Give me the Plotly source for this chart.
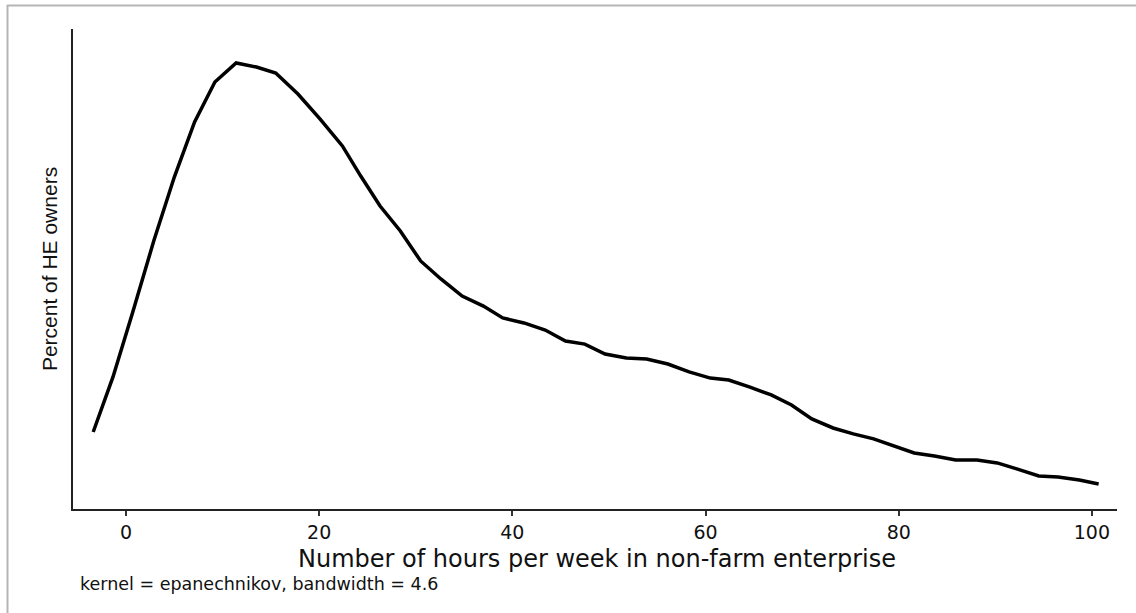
import plotly.graph_objects as go

hours = [-3.4, -1.35, 0.7, 2.9, 5.0, 7.1, 9.2, 11.4, 13.5, 15.5, 17.8, 20.1, 22.4, 24.3,
         26.3, 28.4, 30.5, 32.6, 34.8, 37.0, 39.0, 41.2, 43.4, 45.5, 47.5, 49.6, 51.8,
         53.9, 56.1, 58.3, 60.5, 62.4, 64.6, 66.8, 68.9, 71.0, 73.2, 75.3, 77.4, 79.6,
         81.6, 83.7, 85.9, 88.1, 90.2, 92.3, 94.5, 96.5, 98.7, 100.7]
density = [0.00401, 0.00688, 0.01026, 0.01401, 0.01729, 0.02016, 0.02224, 0.02323,
           0.02302, 0.02271, 0.02161, 0.02031, 0.01891, 0.01734, 0.01578, 0.01448,
           0.01292, 0.01198, 0.01109, 0.01057, 0.00995, 0.00969, 0.00932, 0.00875,
           0.00859, 0.00807, 0.00786, 0.00781, 0.00755, 0.00714, 0.00682, 0.00672,
           0.00635, 0.00594, 0.00542, 0.00469, 0.00422, 0.00391, 0.00365, 0.00328,
           0.00292, 0.00276, 0.00255, 0.00255, 0.00240, 0.00208, 0.00172, 0.00167,
           0.00151, 0.00130]
x_ticks = [0, 20, 40, 60, 80, 100]

W, H = 1136, 613
L, R, T, B = 73, 1117, 29, 509
pw, ph = R - L, B - T

def px(x):
    return (x - L) / pw

def py(y):
    return (B - y) / ph

font = "Liberation Sans, Arial, sans-serif"
wide = "DejaVu Sans, Verdana, sans-serif"
txt = "#111111"

fig = go.Figure()
fig.add_trace(go.Scatter(x=hours, y=density, mode="lines",
                         line=dict(color="black", width=3.5), hoverinfo="skip"))

fig.update_layout(
    width=W, height=H,
    margin=dict(l=L, r=W - R, t=T, b=H - B),
    paper_bgcolor="white", plot_bgcolor="white",
    showlegend=False,
    font=dict(family=font, color=txt),
    xaxis=dict(range=[-5.49, 102.6], tickmode="array", tickvals=x_ticks,
               ticks="outside", ticklen=5, tickwidth=2, tickcolor="#333333",
               showline=True, linecolor="#222222", linewidth=2,
               showgrid=False, zeroline=False,
               tickfont=dict(size=19, color=txt, family=wide)),
    yaxis=dict(range=[0, 0.025], showticklabels=False, ticks="",
               showline=True, linecolor="#222222", linewidth=2,
               showgrid=False, zeroline=False,
               title=dict(text="Percent of HE owners",
                          font=dict(size=21, color=txt), standoff=8)),
    annotations=[
        dict(text="Number of hours per week in non-farm enterprise", xref="paper",
             yref="paper", x=px(597), y=py(559), xanchor="center", yanchor="middle",
             showarrow=False, font=dict(size=24, color=txt, family=wide)),
        dict(text="kernel = epanechnikov, bandwidth = 4.6", xref="paper", yref="paper",
             x=px(78), y=py(584), xanchor="left", yanchor="middle", showarrow=False,
             font=dict(size=17.5, color=txt, family=wide)),
    ],
    shapes=[
        dict(type="line", xref="paper", yref="paper", x0=px(7), x1=px(1136),
             y0=py(5.5), y1=py(5.5), line=dict(color="#b5b5b5", width=2)),
        dict(type="line", xref="paper", yref="paper", x0=px(7.5), x1=px(7.5),
             y0=py(5), y1=py(613), line=dict(color="#b5b5b5", width=2)),
    ],
)

fig.write_html("out.html")
